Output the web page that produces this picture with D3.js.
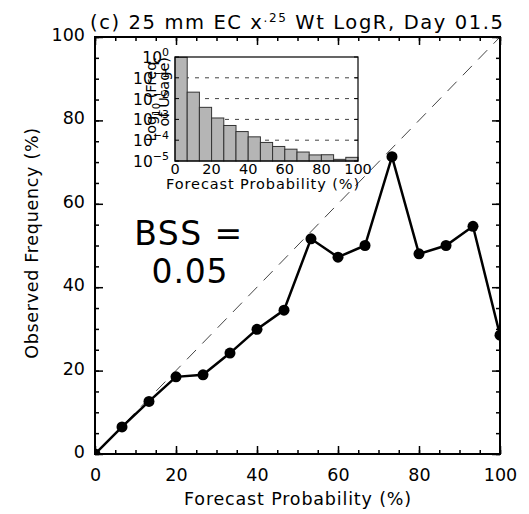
<!DOCTYPE html>
<html><head><meta charset="utf-8">
<script src="https://cdn.jsdelivr.net/npm/d3@7"></script>
<style>body{margin:0;background:#fff}svg{display:block}text{font-family:"DejaVu Sans",sans-serif}</style>
</head><body><svg id="c" width="529" height="514"></svg>
<script>
// Reliability data
const probs = [0, 6.67, 13.33, 20, 26.67, 33.33, 40, 46.67, 53.33, 60, 66.67, 73.33, 80, 86.67, 93.33, 100];
const obsFreq = [0, 6.5, 12.6, 18.5, 19.0, 24.2, 29.9, 34.5, 51.6, 47.2, 50.0, 71.3, 48.0, 50.0, 54.6, 28.5];
// Inset histogram (frequency of usage per bin)
const binStarts = [0, 6.67, 13.33, 20, 26.67, 33.33, 40, 46.67, 53.33, 60, 66.67, 73.33, 80, 86.67, 93.33];
const usage = [0.97, 0.0204, 0.0038, 0.00117, 0.00051, 0.00026, 0.000145, 0.000078, 0.00005, 0.000037, 0.000027, 0.0000196, 0.00002, 0.000012, 0.000015];
const mainTicks = [0, 20, 40, 60, 80, 100];
const insetXTicks = [0, 20, 40, 60, 80, 100];
const insetYExp = [0, -1, -2, -3, -4, -5];
const titleText = "(c) 25 mm EC x";
const bssLines = ["BSS =", "0.05"];

const svg = d3.select("#c");
const x = d3.scaleLinear().domain([0, 100]).range([95, 500]);
const y = d3.scaleLinear().domain([0, 100]).range([454, 37]);

function fitWidth(sel, target) {
  const node = sel.node();
  const w = node.getComputedTextLength();
  const n = node.textContent.length;
  if (n > 1) sel.attr("letter-spacing", ((target - w) / (n - 1)).toFixed(3));
}

// title
const t = svg.append("text").attr("x", 90).attr("y", 29).attr("font-size", 19.5);
t.append("tspan").text(titleText);
t.append("tspan").attr("dy", -7).attr("font-size", 12).text(".25");
t.append("tspan").attr("dy", 7).text(" Wt LogR, Day 01.5");
fitWidth(t, 413);

// clip
svg.append("clipPath").attr("id", "pc").append("rect")
  .attr("x", 95).attr("y", 37).attr("width", 405).attr("height", 417);

// diagonal
svg.append("line").attr("x1", x(0)).attr("y1", y(0)).attr("x2", x(100)).attr("y2", y(100))
  .attr("stroke", "#444").attr("stroke-width", 1).attr("stroke-dasharray", "13,9");

// axes with inward ticks on all sides
const minor = d3.range(0, 101, 5);
function tickSet(axisGen, tr) {
  return svg.append("g").attr("transform", tr).call(axisGen);
}
tickSet(d3.axisBottom(x).tickValues(minor).tickSize(-4).tickFormat(""), "translate(0,454)");
const bxM = tickSet(d3.axisBottom(x).tickValues(mainTicks).tickSize(-8).tickPadding(15).tickFormat(d3.format("d")), "translate(0,454)");
tickSet(d3.axisTop(x).tickValues(minor).tickSize(-4).tickFormat(""), "translate(0,37)");
tickSet(d3.axisTop(x).tickValues(mainTicks).tickSize(-8).tickFormat(""), "translate(0,37)");
tickSet(d3.axisLeft(y).tickValues(minor).tickSize(-4).tickFormat(""), "translate(95,0)");
const lyM = tickSet(d3.axisLeft(y).tickValues(mainTicks).tickSize(-8).tickPadding(10).tickFormat(d3.format("d")), "translate(95,0)");
tickSet(d3.axisRight(y).tickValues(minor).tickSize(-4).tickFormat(""), "translate(500,0)");
tickSet(d3.axisRight(y).tickValues(mainTicks).tickSize(-8).tickFormat(""), "translate(500,0)");
svg.selectAll(".domain").remove();
svg.selectAll(".tick line").attr("stroke", "#000").attr("stroke-width", 1.5);
bxM.selectAll("text").attr("font-size", 17.5).attr("font-family", "DejaVu Sans").attr("fill", "#000").attr("dy", "0.71em");
lyM.selectAll("text").attr("font-size", 17.5).attr("font-family", "DejaVu Sans").attr("fill", "#000").attr("dy", "0.2em");
svg.append("rect").attr("x", 95).attr("y", 37).attr("width", 405).attr("height", 417)
  .attr("fill", "none").attr("stroke", "#000").attr("stroke-width", 2);

// axis titles
const xt = svg.append("text").attr("x", 298).attr("y", 505).attr("text-anchor", "middle").attr("font-size", 17.5)
  .text("Forecast Probability (%)");
fitWidth(xt, 227);
const yt = svg.append("text").attr("transform", "translate(38,243) rotate(-90)").attr("text-anchor", "middle").attr("font-size", 17.5)
  .text("Observed Frequency (%)");
fitWidth(yt, 231);

// BSS
const bss1 = svg.append("text").attr("font-size", 33).attr("x", 189).attr("y", 245).attr("text-anchor", "middle").text(bssLines[0]);
fitWidth(bss1, 108);
const bss2 = svg.append("text").attr("font-size", 33).attr("x", 190).attr("y", 283).attr("text-anchor", "middle").text(bssLines[1]);
fitWidth(bss2, 76);

// reliability line
const pts = probs.map((p, i) => [p, obsFreq[i]]);
const gLine = svg.append("g").attr("clip-path", "url(#pc)");
gLine.append("path").datum(pts)
  .attr("d", d3.line().x(d => x(d[0])).y(d => y(d[1])))
  .attr("fill", "none").attr("stroke", "#000").attr("stroke-width", 2.5);
gLine.selectAll("circle").data(pts).join("circle")
  .attr("cx", d => x(d[0])).attr("cy", d => y(d[1])).attr("r", 5.5).attr("fill", "#000");

// inset
const ix = d3.scaleLinear().domain([0, 100]).range([175, 358]);
const iy = d3.scaleLog().domain([1e-5, 1]).range([161, 57]);
const ig = svg.append("g");
ig.append("rect").attr("x", 175).attr("y", 57).attr("width", 183).attr("height", 104).attr("fill", "#fff");
insetYExp.filter(e => e < 0 && e > -5).forEach(e => {
  ig.append("line").attr("x1", 175).attr("x2", 358).attr("y1", iy(Math.pow(10, e))).attr("y2", iy(Math.pow(10, e)))
    .attr("stroke", "#444").attr("stroke-width", 1).attr("stroke-dasharray", "4,6");
});
ig.selectAll("rect.bar").data(binStarts).join("rect").attr("class", "bar")
  .attr("x", d => ix(d)).attr("width", (d) => ix(d + 100 / 15) - ix(d))
  .attr("y", (d, i) => iy(usage[i])).attr("height", (d, i) => 161 - iy(usage[i]))
  .attr("fill", "#b5b5b5").attr("stroke", "#333").attr("stroke-width", 1);
insetYExp.forEach(e => {
  const yy = iy(Math.pow(10, e));
  ig.append("line").attr("x1", 175).attr("x2", 179).attr("y1", yy).attr("y2", yy).attr("stroke", "#000");
  ig.append("line").attr("x1", 354).attr("x2", 358).attr("y1", yy).attr("y2", yy).attr("stroke", "#000");
  const tt = ig.append("text").attr("x", 169).attr("y", yy + 6).attr("text-anchor", "end").attr("font-size", 15.5);
  tt.append("tspan").text("10");
  tt.append("tspan").attr("dy", -7).attr("font-size", 11).text(e === 0 ? "0" : "\u2212" + (-e));
});
ig.append("rect").attr("x", 175).attr("y", 57).attr("width", 183).attr("height", 104)
  .attr("fill", "none").attr("stroke", "#000").attr("stroke-width", 1.2);
insetXTicks.forEach(v => {
  ig.append("text").attr("x", ix(v)).attr("y", 174).attr("text-anchor", "middle").attr("font-size", 14.5).text(v);
});
const ixt = ig.append("text").attr("x", 263).attr("y", 189).attr("text-anchor", "middle").attr("font-size", 14.5)
  .text("Forecast Probability (%)");
fitWidth(ixt, 193);
const yl1 = ig.append("text").attr("transform", "translate(156,57) rotate(-90)").attr("text-anchor", "end").attr("font-size", 14.5);
yl1.append("tspan").text("Log");
yl1.append("tspan").attr("dy", 4).attr("font-size", 10).text("10");
yl1.append("tspan").attr("dy", -4).text(" (Freq.");
ig.append("text").attr("transform", "translate(169,57) rotate(-90)").attr("text-anchor", "end").attr("font-size", 14.5)
  .text("of Usage)");
</script></body></html>
